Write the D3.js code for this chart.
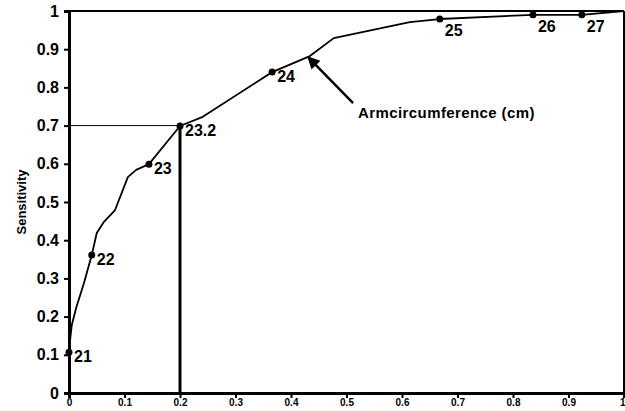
<!DOCTYPE html>
<html>
<head>
<meta charset="utf-8">
<script src="https://cdn.jsdelivr.net/npm/d3@7"></script>
<style>
  body { margin: 0; background: #fff; }
  text { font-family: "Liberation Sans", Arial, sans-serif; font-weight: bold; fill: #000; }
</style>
</head>
<body>
<div id="chart"></div>
<script>
// ROC curve: 1 - specificity (x) vs sensitivity (y)
var curveX = [0, 0, 0.002, 0.005, 0.013, 0.027, 0.041, 0.050, 0.063, 0.083, 0.106, 0.121, 0.144, 0.200, 0.241, 0.366, 0.434, 0.477, 0.614, 0.668, 0.836, 0.924, 1.0];
var curveY = [0, 0.107, 0.139, 0.178, 0.223, 0.288, 0.361, 0.419, 0.448, 0.479, 0.565, 0.584, 0.599, 0.699, 0.723, 0.840, 0.882, 0.929, 0.971, 0.979, 0.990, 0.990, 1.0];

// labelled cut-off points (arm circumference, cm)
var cutLabels = ["21", "22", "23", "23.2", "24", "25", "26", "27"];
var cutX = [0, 0.041, 0.144, 0.200, 0.366, 0.668, 0.836, 0.924];
var cutY = [0.107, 0.361, 0.599, 0.699, 0.840, 0.979, 0.990, 0.990];

var yTicks = [0, 0.1, 0.2, 0.3, 0.4, 0.5, 0.6, 0.7, 0.8, 0.9, 1];
var xTicks = [0, 0.1, 0.2, 0.3, 0.4, 0.5, 0.6, 0.7, 0.8, 0.9, 1];

var chosenCut = { x: 0.200, y: 0.70 };
var arrowNote = { text: "Armcircumference (cm)", x: 0.429, y: 0.882 };

var svgWidth = 625;
var svgHeight = 411;
var margin = { top: 11, right: 1, bottom: 18, left: 69 };
var chartWidth = svgWidth - margin.left - margin.right;
var chartHeight = svgHeight - margin.top - margin.bottom;

var svg = d3.select("#chart")
  .append("svg")
  .attr("width", svgWidth)
  .attr("height", svgHeight);

var chartGroup = svg.append("g")
  .attr("transform", `translate(${margin.left}, ${margin.top})`);

var xScale = d3.scaleLinear().domain([0, 1]).range([0, chartWidth]);
var yScale = d3.scaleLinear().domain([0, 1]).range([chartHeight, 0]);

// frame top and right
chartGroup.append("line")
  .attr("x1", 0).attr("x2", chartWidth)
  .attr("y1", 0).attr("y2", 0)
  .attr("stroke", "#000").attr("stroke-width", 2);
chartGroup.append("line")
  .attr("x1", chartWidth).attr("x2", chartWidth)
  .attr("y1", 0).attr("y2", chartHeight)
  .attr("stroke", "#000").attr("stroke-width", 2);

// axes
var fmt = d => d3.format("")(+d.toFixed(1));
var leftAxis = d3.axisLeft(yScale)
  .tickValues(yTicks)
  .tickSize(5)
  .tickPadding(5)
  .tickFormat(fmt);
var bottomAxis = d3.axisBottom(xScale)
  .tickValues(xTicks)
  .tickSize(5)
  .tickPadding(1)
  .tickFormat(fmt);

var yAxisG = chartGroup.append("g").call(leftAxis);
var xAxisG = chartGroup.append("g")
  .attr("transform", `translate(0, ${chartHeight})`)
  .call(bottomAxis);

[yAxisG, xAxisG].forEach(function(g) {
  g.select(".domain").attr("stroke-width", 3).attr("stroke", "#000");
  g.selectAll(".tick line").attr("stroke-width", 2).attr("stroke", "#000");
  g.selectAll(".tick text")
    .style("font-family", "'Liberation Sans', Arial, sans-serif")
    .style("font-weight", "bold")
    .attr("fill", "#000");
});
yAxisG.selectAll(".tick text").style("font-size", "16px");
xAxisG.selectAll(".tick text").style("font-size", "10px");
// keep the last x label inside the picture
xAxisG.selectAll(".tick text")
  .filter(d => d === 1)
  .attr("text-anchor", "end")
  .attr("dx", 1);

// reference lines for the chosen cut-off
chartGroup.append("line")
  .attr("x1", 0).attr("x2", xScale(chosenCut.x))
  .attr("y1", yScale(chosenCut.y)).attr("y2", yScale(chosenCut.y))
  .attr("stroke", "#000").attr("stroke-width", 1);
chartGroup.append("line")
  .attr("x1", xScale(chosenCut.x)).attr("x2", xScale(chosenCut.x))
  .attr("y1", yScale(chosenCut.y)).attr("y2", chartHeight)
  .attr("stroke", "#000").attr("stroke-width", 3);

// ROC curve
var curveData = curveX.map((x, i) => ({ x: x, y: curveY[i] }));
var line = d3.line()
  .x(d => xScale(d.x))
  .y(d => yScale(d.y));

chartGroup.append("path")
  .datum(curveData)
  .attr("d", line)
  .attr("fill", "none")
  .attr("stroke", "#000")
  .attr("stroke-width", 1.8)
  .attr("stroke-linejoin", "round");

// cut-off points and labels
var cutData = cutLabels.map((l, i) => ({ label: l, x: cutX[i], y: cutY[i] }));

chartGroup.selectAll("circle.cut")
  .data(cutData)
  .enter()
  .append("circle")
  .attr("class", "cut")
  .attr("cx", d => xScale(d.x))
  .attr("cy", d => yScale(d.y))
  .attr("r", 3.5)
  .attr("fill", "#000");

chartGroup.selectAll("text.cut")
  .data(cutData)
  .enter()
  .append("text")
  .attr("class", "cut")
  .attr("x", d => xScale(d.x) + 5)
  .attr("y", d => yScale(d.y) + (d.y > 0.95 ? 17 : 10))
  .style("font-size", "16px")
  .text(d => d.label);

// arrow annotation
var defs = svg.append("defs");
defs.append("marker")
  .attr("id", "arrowhead")
  .attr("viewBox", "0 0 10 10")
  .attr("refX", 9)
  .attr("refY", 5)
  .attr("markerWidth", 6)
  .attr("markerHeight", 5)
  .attr("markerUnits", "strokeWidth")
  .attr("orient", "auto")
  .append("path")
  .attr("d", "M0,0 L10,5 L0,10 z")
  .attr("fill", "#000");

var tipX = xScale(arrowNote.x);
var tipY = yScale(arrowNote.y);
chartGroup.append("line")
  .attr("x1", tipX + 46).attr("y1", tipY + 47)
  .attr("x2", tipX + 1).attr("y2", tipY + 1)
  .attr("stroke", "#000")
  .attr("stroke-width", 2.5)
  .attr("marker-end", "url(#arrowhead)");

chartGroup.append("text")
  .attr("x", tipX + 51)
  .attr("y", tipY + 62)
  .style("font-size", "15px")
  .style("letter-spacing", "0.4px")
  .text(arrowNote.text);

// y axis title
chartGroup.append("text")
  .attr("transform", `translate(${-43}, ${chartHeight / 2}) rotate(-90)`)
  .attr("text-anchor", "middle")
  .style("font-size", "13px")
  .text("Sensitivity");
</script>
</body>
</html>
